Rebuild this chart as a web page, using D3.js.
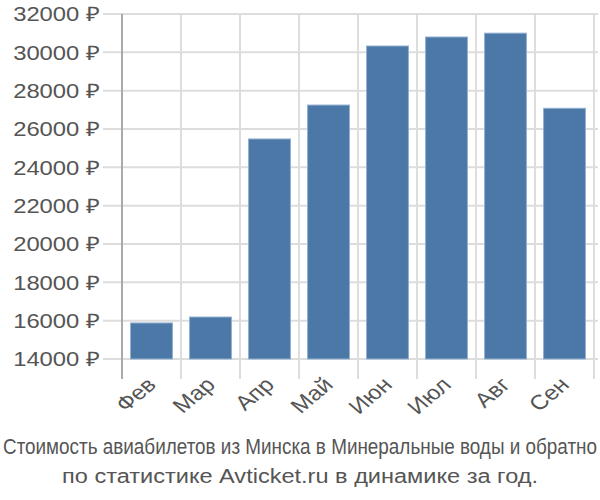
<!DOCTYPE html>
<html><head><meta charset="utf-8">
<script src="https://cdn.jsdelivr.net/npm/d3@7"></script>
<style>body{margin:0;background:#fff}svg{display:block}</style>
</head><body>
<svg id="c" width="600" height="500"></svg>
<script>
const months = ["Фев","Мар","Апр","Май","Июн","Июл","Авг","Сен"];
const prices = [15880, 16190, 25480, 27250, 30330, 30800, 31000, 27080];
const yTicks = [14000,16000,18000,20000,22000,24000,26000,28000,30000,32000];
const titleLines = ["Стоимость авиабилетов из Минска в Минеральные воды и обратно","по статистике Avticket.ru в динамике за год."];

const svg = d3.select("#c");
const font = "'Liberation Sans', Arial, sans-serif";
const sx = 1.19;
const x = d3.scaleBand().domain(months).range([122, 594]).paddingInner(0.29).paddingOuter(0.145);
const xg = d3.scaleBand().domain(months).range([122, 594]);
const y = d3.scaleLinear().domain([14000, 32000]).range([359, 14]);

// horizontal grid
svg.append("g").selectAll("line").data(yTicks).join("line")
  .attr("x1", 103).attr("x2", 598).attr("y1", d=>y(d)).attr("y2", d=>y(d))
  .attr("stroke", "#dddddd").attr("stroke-width", 2);
// vertical grid
const vx = months.map(m=>xg(m)).concat([594]);
svg.append("g").selectAll("line").data(vx.slice(1)).join("line")
  .attr("x1", d=>d).attr("x2", d=>d).attr("y1", 14).attr("y2", 379)
  .attr("stroke", "#dddddd").attr("stroke-width", 2);
// y axis line
svg.append("line").attr("x1",122).attr("x2",122).attr("y1",14).attr("y2",379)
  .attr("stroke","#aaaaaa").attr("stroke-width",2);

// bars
svg.append("g").selectAll("rect").data(prices).join("rect")
  .attr("x", (d,i)=>x(months[i])).attr("width", x.bandwidth())
  .attr("y", d=>y(d)).attr("height", d=>y(14000)-y(d))
  .attr("fill", "#4c78a8").attr("stroke", "#91afd0").attr("stroke-width", 1);

// y labels
svg.append("g").selectAll("text").data(yTicks).join("text")
  .attr("transform", d=>`translate(100,${y(d)}) scale(${sx},1)`).attr("dy", "0.36em")
  .attr("text-anchor", "end").attr("font-family", font).attr("font-size", 20)
  .attr("fill", "#555").text(d=>d + " ₽");

// x labels
svg.append("g").selectAll("text").data(months).join("text")
  .attr("transform", m=>`translate(${xg(m)+xg.bandwidth()/2+6},${386}) scale(${sx},1) rotate(-45)`)
  .attr("text-anchor", "end").attr("font-family", font).attr("font-size", 20.5)
  .attr("fill", "#555").text(m=>m);

// title
svg.append("text").attr("x", 300).attr("y", 454).attr("text-anchor","middle")
  .attr("font-family", font).attr("font-size", 22).attr("fill","#555")
  .attr("textLength", 594).attr("lengthAdjust","spacingAndGlyphs").text(titleLines[0]);
svg.append("text").attr("x", 300).attr("y", 483).attr("text-anchor","middle")
  .attr("font-family", font).attr("font-size", 20).attr("fill","#555")
  .attr("textLength", 476).attr("lengthAdjust","spacingAndGlyphs").text(titleLines[1]);
</script>
</body></html>
